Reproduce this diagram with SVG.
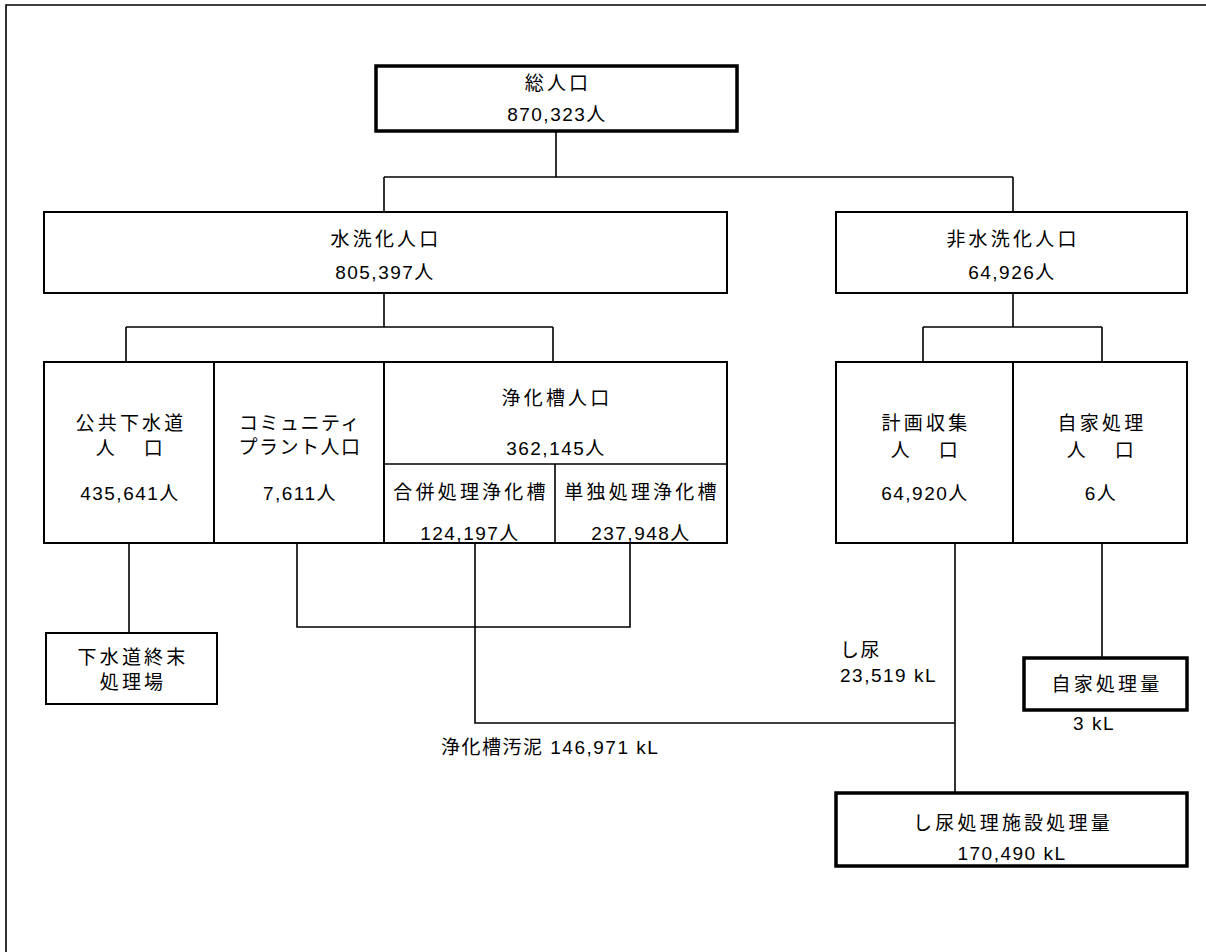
<svg xmlns="http://www.w3.org/2000/svg" width="1206" height="952" viewBox="0 0 1206 952">
<style>
.box{fill:#fff;stroke:#000;stroke-width:2}
.thick{fill:#fff;stroke:#000;stroke-width:3.5}
.ln{fill:none;stroke:#000;stroke-width:1.6}
text{font-family:"Liberation Sans","Noto Sans CJK JP",sans-serif;font-size:19px;fill:#000;letter-spacing:1.5px}
.j{letter-spacing:3.2px}
.c{text-anchor:middle}
</style>
<rect width="1206" height="952" fill="#fff"/>
<g id="frame"><path class="ln" d="M6,952 V5 H1206"/></g>
<g id="connectors">
<path class="ln" d="M556,131 V177 M384,177 H1013 M384,177 V212 M1013,177 V212"/>
<path class="ln" d="M384,293 V327 M126,327 H553 M126,327 V362 M553,327 V362"/>
<path class="ln" d="M1013,293 V327 M923,327 H1102 M923,327 V362 M1102,327 V362"/>
<path class="ln" d="M129,543 V633"/>
<path class="ln" d="M297,543 V627 H630 V543"/>
<path class="ln" d="M475,543 V723 H955"/>
<path class="ln" d="M955,543 V793"/>
<path class="ln" d="M1102,543 V658"/>
</g>
<g id="total"><rect class="thick" x="376" y="66" width="361" height="65"/>
<text class="c j" x="558" y="90">総人口</text><text class="c" x="557" y="121">870,323人</text></g>
<g id="flush"><rect class="box" x="44" y="212" width="683" height="81"/>
<text class="c j" x="386" y="246">水洗化人口</text><text class="c" x="385" y="279">805,397人</text></g>
<g id="nonflush"><rect class="box" x="836" y="212" width="351" height="81"/>
<text class="c j" x="1013" y="246">非水洗化人口</text><text class="c" x="1012" y="279">64,926人</text></g>
<g id="sewer"><rect class="box" x="44" y="362" width="170" height="181"/>
<text class="c j" x="131" y="430">公共下水道</text><text class="c" x="130" y="455" xml:space="preserve">人　 口</text><text class="c" x="130" y="500">435,641人</text></g>
<g id="community"><rect class="box" x="214" y="362" width="170" height="181"/>
<text class="c" x="300" y="430">コミュニティ</text><text class="c" x="300" y="454">プラント人口</text><text class="c" x="300" y="500">7,611人</text></g>
<g id="septic"><rect class="box" x="384" y="362" width="343" height="181"/>
<path class="ln" d="M384,464 H727 M555,464 V543"/>
<text class="c j" x="557" y="405">浄化槽人口</text><text class="c" x="556" y="455">362,145人</text></g>
<g id="combined"><text class="c j" x="471" y="499">合併処理浄化槽</text><text class="c" x="470" y="540">124,197人</text></g>
<g id="single"><text class="c j" x="642" y="499">単独処理浄化槽</text><text class="c" x="641" y="540">237,948人</text></g>
<g id="planned"><rect class="box" x="836" y="362" width="177" height="181"/>
<text class="c j" x="926" y="430">計画収集</text><text class="c" x="925" y="457" xml:space="preserve">人　 口</text><text class="c" x="925" y="500">64,920人</text></g>
<g id="self"><rect class="box" x="1013" y="362" width="174" height="181"/>
<text class="c j" x="1102" y="430">自家処理</text><text class="c" x="1101" y="457" xml:space="preserve">人　 口</text><text class="c" x="1101" y="500">6人</text></g>
<g id="plant"><rect class="box" x="46" y="633" width="171" height="71"/>
<text class="c j" x="133" y="664">下水道終末</text><text class="c j" x="133" y="689">処理場</text></g>
<g id="nightsoil-label"><text x="840" y="657">し尿</text><text x="840" y="682">23,519 kL</text></g>
<g id="selfamount"><rect class="thick" x="1024" y="658" width="163" height="52"/>
<text class="c j" x="1107" y="691">自家処理量</text><text class="c" x="1094" y="730">3 kL</text></g>
<g id="sludge-label"><text x="441" y="754">浄化槽汚泥 146,971 kL</text></g>
<g id="facility"><rect class="thick" x="836" y="793" width="351" height="73"/>
<text class="c j" x="1013" y="830">し尿処理施設処理量</text><text class="c" x="1012" y="860">170,490 kL</text></g>
</svg>
